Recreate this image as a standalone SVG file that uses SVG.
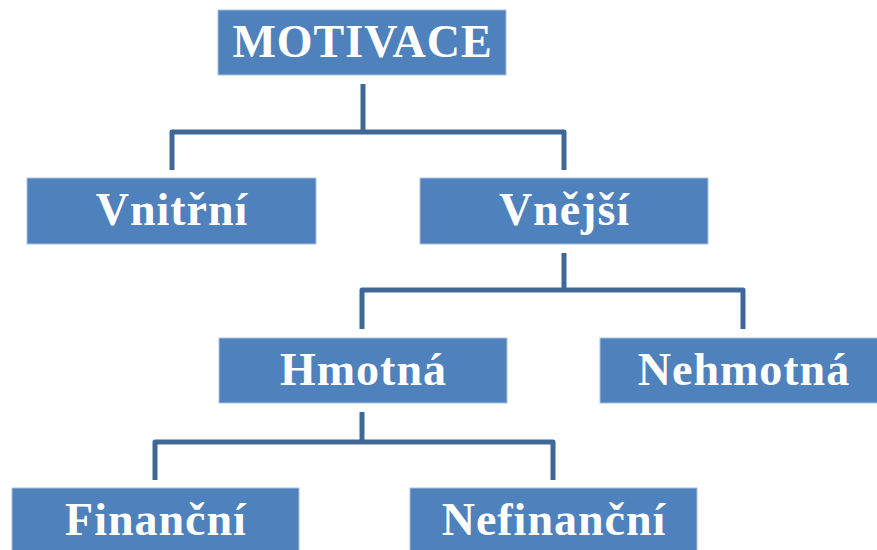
<svg xmlns="http://www.w3.org/2000/svg" width="877" height="550" viewBox="0 0 877 550">
<style>
.box{fill:#4F81BD;stroke:#A9C1E0;stroke-width:1}
.lbl{font-family:"Liberation Serif","Times New Roman",serif;font-weight:bold;font-size:46px;letter-spacing:1px;fill:#FFFFFF;text-anchor:middle}
.con{fill:none;stroke:#3F6899;stroke-width:5;stroke-linejoin:round}
</style>
<rect width="877" height="550" fill="#FFFFFF"/>
<g id="connectors">
<path class="con" d="M363 84V132M172 170V132H564V170"/>
<path class="con" d="M564 253V290M362 329V290H743V329"/>
<path class="con" d="M362 412V442M155 480V442H553V480"/>
</g>
<g id="motivace"><rect class="box" x="218" y="10" width="288" height="65"/><text class="lbl" x="362.5" y="57">MOTIVACE</text></g>
<g id="vnitrni"><rect class="box" x="27" y="178" width="289" height="66"/><text class="lbl" x="172" y="225">Vnitřní</text></g>
<g id="vnejsi"><rect class="box" x="420" y="178" width="288" height="66"/><text class="lbl" x="564.5" y="225">Vnější</text></g>
<g id="hmotna"><rect class="box" x="219" y="338" width="288" height="65"/><text class="lbl" x="363.5" y="385">Hmotná</text></g>
<g id="nehmotna"><rect class="box" x="600" y="338" width="288" height="65"/><text class="lbl" x="744" y="385">Nehmotná</text></g>
<g id="financni"><rect class="box" x="12" y="488" width="287" height="66"/><text class="lbl" x="156" y="535">Finanční</text></g>
<g id="nefinancni"><rect class="box" x="410" y="488" width="287" height="66"/><text class="lbl" x="554" y="535">Nefinanční</text></g>
</svg>
